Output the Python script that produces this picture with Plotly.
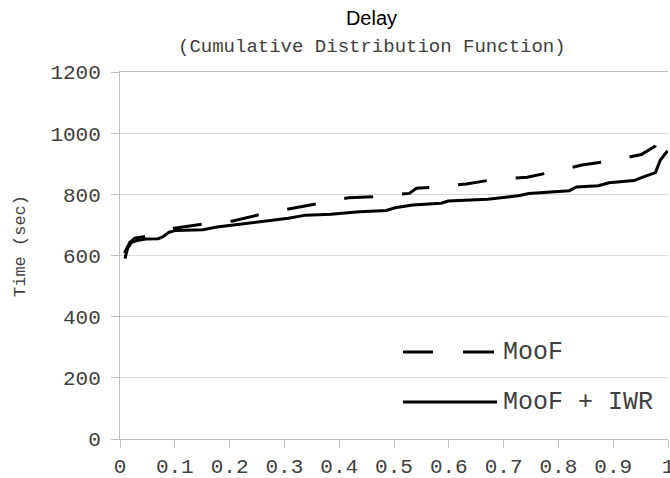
import plotly.graph_objects as go

# MooF (dashed)
moof_x = [0.008, 0.018, 0.027, 0.045, 0.070, 0.099, 0.151, 0.206, 0.258, 0.310, 0.362, 0.417,
          0.469, 0.528, 0.541, 0.577, 0.632, 0.684, 0.743, 0.762, 0.791, 0.843, 0.895, 0.951,
          0.977, 0.992]
moof_y = [608, 643, 657, 662, 672, 689, 703, 713, 735, 752, 771, 789,
          793, 803, 820, 823, 834, 849, 856, 863, 874, 896, 909, 930,
          958, 992]

# MooF + IWR (solid)
iwr_x = [0.009, 0.014, 0.021, 0.031, 0.047, 0.070, 0.079, 0.089, 0.102, 0.151, 0.177, 0.209,
         0.242, 0.274, 0.307, 0.339, 0.385, 0.437, 0.486, 0.502, 0.534, 0.586, 0.599, 0.671,
         0.697, 0.729, 0.746, 0.788, 0.820, 0.833, 0.873, 0.892, 0.938, 0.954, 0.977, 0.986,
         0.999]
iwr_y = [590, 624, 643, 649, 654, 655, 662, 676, 682, 684, 693, 700,
         709, 714, 722, 732, 735, 743, 747, 756, 765, 771, 778, 784,
         790, 796, 803, 807, 812, 824, 828, 838, 845, 856, 871, 912,
         942]

x_ticks = [0, 0.1, 0.2, 0.3, 0.4, 0.5, 0.6, 0.7, 0.8, 0.9, 1]
x_tick_labels = ["0", "0.1", "0.2", "0.3", "0.4", "0.5", "0.6", "0.7", "0.8", "0.9", "1"]
y_ticks = [0, 200, 400, 600, 800, 1000, 1200]

series_names = ["MooF", "MooF + IWR"]

MONO = "Liberation Mono, Courier New, monospace"
GRID = "#d9d9d9"
AXIS = "#bfbfbf"
TXT = "#404040"

fig = go.Figure()
fig.add_trace(go.Scatter(x=moof_x, y=moof_y, mode="lines", name=series_names[0],
                         line=dict(color="black", width=3, dash="29px,29px"),
                         showlegend=False))
fig.add_trace(go.Scatter(x=iwr_x, y=iwr_y, mode="lines", name=series_names[1],
                         line=dict(color="black", width=3),
                         showlegend=False))

fig.update_layout(
    width=670, height=478,
    margin=dict(l=120, r=2, t=72, b=39),
    paper_bgcolor="white", plot_bgcolor="white",
    title=dict(text="Delay", x=(345 + 398) / 2 / 670, xanchor="center",
               y=1 - 18 / 478, yanchor="middle",
               font=dict(family="Liberation Sans, Arial", size=20, color="black")),
    xaxis=dict(range=[0, 1], tickvals=x_ticks, ticktext=x_tick_labels,
               showgrid=False, zeroline=False, automargin=False,
               showline=True, linecolor=AXIS, linewidth=1, mirror=True,
               ticks="outside", ticklen=8, tickcolor=AXIS,
               ticklabeloverflow="allow",
               tickfont=dict(family=MONO, size=21, color=TXT)),
    yaxis=dict(range=[0, 1200], tickvals=y_ticks,
               showgrid=True, gridcolor=GRID, gridwidth=1, zeroline=False, automargin=False,
               showline=True, linecolor=AXIS, linewidth=1,
               ticks="outside", ticklen=8, tickcolor=AXIS,
               ticklabelstandoff=6,
               tickfont=dict(family=MONO, size=21, color=TXT)),
)

# subtitle and y-axis title
fig.add_annotation(text="(Cumulative Distribution Function)", xref="paper", yref="paper",
                   x=(372 - 120) / 548, y=1 + (72 - 47) / 367, xanchor="center", yanchor="middle",
                   showarrow=False, font=dict(family=MONO, size=19, color=TXT))
fig.add_annotation(text="Time (sec)", xref="paper", yref="paper",
                   x=(20 - 120) / 548, y=(439 - 246) / 367, xanchor="center", yanchor="middle",
                   textangle=-90, showarrow=False, font=dict(family=MONO, size=17, color=TXT))

# legend drawn inside plot
def px(xp):
    return (xp - 120) / 548

def py(yp):
    return (439 - yp) / 367

fig.add_shape(type="line", xref="paper", yref="paper", x0=px(403), x1=px(433), y0=py(352), y1=py(352),
              line=dict(color="black", width=3))
fig.add_shape(type="line", xref="paper", yref="paper", x0=px(463), x1=px(494), y0=py(352), y1=py(352),
              line=dict(color="black", width=3))
fig.add_shape(type="line", xref="paper", yref="paper", x0=px(403), x1=px(497), y0=py(402), y1=py(402),
              line=dict(color="black", width=3))
fig.add_annotation(text=series_names[0], xref="paper", yref="paper", x=px(501), y=py(352),
                   xanchor="left", yanchor="middle", showarrow=False,
                   font=dict(family=MONO, size=25, color=TXT))
fig.add_annotation(text=series_names[1], xref="paper", yref="paper", x=px(501), y=py(402),
                   xanchor="left", yanchor="middle", showarrow=False,
                   font=dict(family=MONO, size=25, color=TXT))

fig.write_html("out.html")
